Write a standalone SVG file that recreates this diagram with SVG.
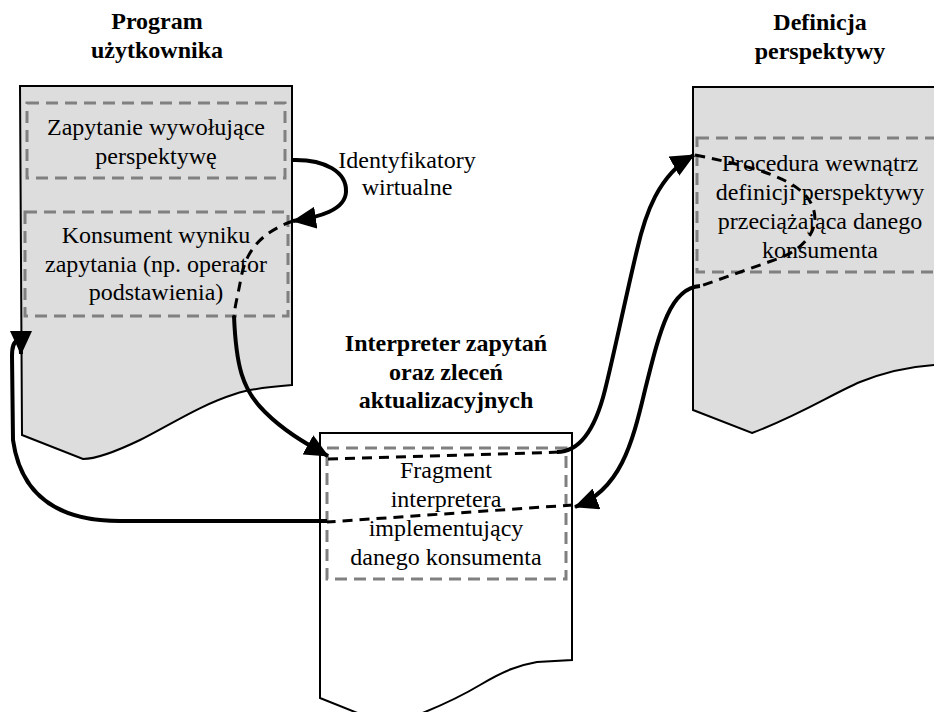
<svg xmlns="http://www.w3.org/2000/svg" width="934" height="712" viewBox="0 0 934 712">
<defs>
<style>
.doc{stroke:#000;stroke-width:2;stroke-linejoin:miter}
.grey{fill:#dddddd}
.white{fill:#ffffff}
.frag{fill:none;stroke:#808080;stroke-width:3;stroke-dasharray:12 7}
.t{font-family:"Liberation Serif","Times New Roman",serif;font-size:24px;fill:#000;text-anchor:middle}
.b{font-weight:bold}
.solid{fill:none;stroke:#000;stroke-width:4}
.dash{fill:none;stroke:#000;stroke-width:3;stroke-dasharray:10 7}
</style>
<marker id="ah" viewBox="0 0 24 22" refX="23" refY="11" markerWidth="24" markerHeight="22" markerUnits="userSpaceOnUse" orient="auto">
<path d="M0,0 L24,11 L0,22 z" fill="#000"/>
</marker>
</defs>
<rect width="934" height="712" fill="#fff"/>

<g id="program">
<path class="doc grey" d="M20,86 L292,86 L292,385 C 265,387 250,389 235,394 C 200,405 170,425 140,440 C 115,452 95,459 83,459 L22,435 Z"/>
<text class="t b" x="157" y="29">Program</text>
<text class="t b" x="157" y="58">użytkownika</text>
<g id="zapytanie">
<rect class="frag" x="27" y="103" width="258" height="75"/>
<text class="t" x="156" y="135">Zapytanie wywołujące</text>
<text class="t" x="156" y="164">perspektywę</text>
</g>
<g id="konsument">
<rect class="frag" x="25" y="212" width="263" height="104"/>
<text class="t" x="156" y="243">Konsument wyniku</text>
<text class="t" x="156" y="272">zapytania (np. operator</text>
<text class="t" x="156" y="300">podstawienia)</text>
</g>
</g>

<g id="definicja">
<path class="doc grey" d="M693,87 L945,87 L945,365 L934,365 C 905,367 880,374 860,382 C 830,395 800,415 752,433 L693,410 Z"/>
<text class="t b" x="820" y="30">Definicja</text>
<text class="t b" x="820" y="59">perspektywy</text>
<g id="procedura">
<rect class="frag" x="697" y="138" width="260" height="134"/>
<text class="t" x="820" y="171">Procedura wewnątrz</text>
<text class="t" x="820" y="200">definicji perspektywy</text>
<text class="t" x="820" y="229">przeciążająca danego</text>
<text class="t" x="820" y="258">konsumenta</text>
</g>
</g>

<g id="interpreter">
<path class="doc white" d="M320,433 L572,433 L572,660 L537,662 C 520,665 505,670 480,685 C 460,697 440,706 420,714 L360,714 L320,698 Z"/>
<text class="t b" x="446" y="351">Interpreter zapytań</text>
<text class="t b" x="446" y="380">oraz zleceń</text>
<text class="t b" x="446" y="408">aktualizacyjnych</text>
<g id="fragment">
<rect class="frag" x="327" y="448" width="239" height="131"/>
<text class="t" x="446" y="478">Fragment</text>
<text class="t" x="446" y="507">interpretera</text>
<text class="t" x="446" y="536">implementujący</text>
<text class="t" x="446" y="565">danego konsumenta</text>
</g>
</g>

<g id="connectors">
<path class="solid" marker-end="url(#ah)" d="M292,160 C 325,159 347,172 346,192 C 345,210 320,217 293,221"/>
<text class="t" x="407" y="168">Identyfikatory</text>
<text class="t" x="407" y="195">wirtualne</text>
<path class="dash" d="M293,221 C 262,232 246,250 241,278 C 238,295 235,305 234,316"/>
<path class="solid" marker-end="url(#ah)" d="M234,316 C 236,365 242,390 265,412 C 283,430 303,442 328,456"/>
<path class="dash" d="M328,459 L563,452"/>
<path class="solid" marker-end="url(#ah)" d="M557,452 C 580,452 595,430 605,390 C 615,350 625,300 637,250 C 645,215 658,175 694,155"/>
<path class="dash" d="M695,155 C 760,168 800,180 812,205 C 822,228 805,248 780,258 L698,287"/>
<path class="solid" marker-end="url(#ah)" d="M700,286 C 670,288 660,330 645,390 C 632,445 620,490 575,507"/>
<path class="dash" d="M573,505 L327,522"/>
<path class="solid" marker-end="url(#ah)" d="M327,521 L120,521 C 70,521 22,505 13,440 L12,356 C 12,338 21,336 21,354"/>
</g>
</svg>
